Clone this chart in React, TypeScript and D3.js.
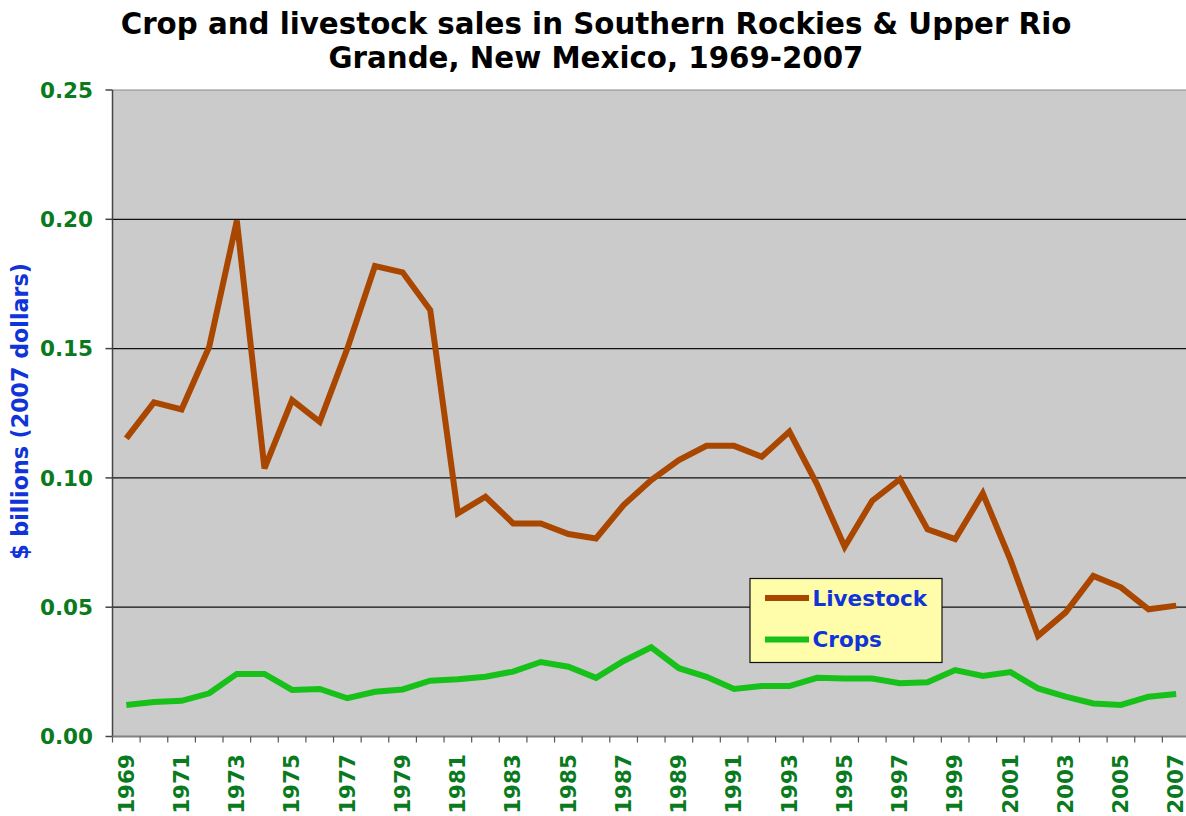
import React from "react";
import * as d3 from "d3";

const years: number[] = [
  1969, 1970, 1971, 1972, 1973, 1974, 1975, 1976, 1977, 1978, 1979, 1980, 1981,
  1982, 1983, 1984, 1985, 1986, 1987, 1988, 1989, 1990, 1991, 1992, 1993, 1994,
  1995, 1996, 1997, 1998, 1999, 2000, 2001, 2002, 2003, 2004, 2005, 2006, 2007,
];

const livestock: number[] = [
  0.1153, 0.1292, 0.1265, 0.1507, 0.1995, 0.1037, 0.1301, 0.1217, 0.150, 0.1819,
  0.1795, 0.1649, 0.0863, 0.0927, 0.0824, 0.0824, 0.0783, 0.0766, 0.0895, 0.0992,
  0.1069, 0.1124, 0.1124, 0.1082, 0.1179, 0.0975, 0.0734, 0.0912, 0.0995, 0.0801,
  0.0763, 0.0940, 0.0683, 0.0389, 0.0480, 0.0621, 0.0577, 0.0492, 0.0506,
];

const crops: number[] = [
  0.0122, 0.0133, 0.0138, 0.0167, 0.0242, 0.0242, 0.0180, 0.0184, 0.0148, 0.0173,
  0.0182, 0.0216, 0.0221, 0.0231, 0.0251, 0.0288, 0.0270, 0.0227, 0.0292, 0.0345,
  0.0264, 0.0231, 0.0184, 0.0195, 0.0195, 0.0227, 0.0224, 0.0224, 0.0206, 0.0210,
  0.0257, 0.0234, 0.0249, 0.0186, 0.0154, 0.0128, 0.0122, 0.0154, 0.0164,
];

const yTicks: number[] = [0, 0.05, 0.1, 0.15, 0.2, 0.25];
const seriesNames: string[] = ["Livestock", "Crops"];
const seriesColors: string[] = ["#a94700", "#17c11a"];
const titleLines: string[] = [
  "Crop and livestock sales in Southern Rockies & Upper Rio",
  "Grande, New Mexico, 1969-2007",
];

const W = 1186;
const H = 816;
const plotL = 112.5;
const plotR = 1190;
const plotT = 90;
const plotB = 736.5;
const FONT = "'DejaVu Sans', Verdana, sans-serif";
const GREEN = "#0a7a1e";
const BLUE = "#1034d8";

export default function App() {
  const x = d3
    .scaleBand<number>()
    .domain(years)
    .range([plotL, plotR])
    .paddingInner(0)
    .paddingOuter(0);
  const y = d3.scaleLinear().domain([0, 0.25]).range([plotB, plotT]);
  const cx = (yr: number) => (x(yr) as number) + x.bandwidth() / 2;

  const line = d3
    .line<number>()
    .x((_, i) => cx(years[i]))
    .y((v) => y(v));

  const series = [livestock, crops];

  return (
    <svg
      width={W}
      height={H}
      style={{ position: "absolute", left: 0, top: 0, background: "#fff" }}
      fontFamily={FONT}
    >
      {/* title */}
      {titleLines.map((t, i) => (
        <text
          key={t}
          x={596}
          y={34 + i * 34}
          textAnchor="middle"
          fontSize={29.3}
          fontWeight="bold"
          fill="#000"
        >
          {t}
        </text>
      ))}

      {/* plot background */}
      <rect
        x={plotL}
        y={plotT}
        width={plotR - plotL}
        height={plotB - plotT}
        fill="#cbcbcb"
      />

      {/* gridlines */}
      {yTicks.map((t) =>
        t > 0 ? (
          <line
            key={"g" + t}
            x1={plotL}
            x2={plotR}
            y1={y(t)}
            y2={y(t)}
            stroke={t === 0.25 ? "#8a8a8a" : "#111"}
            strokeWidth={1.2}
          />
        ) : null
      )}

      {/* y axis */}
      <line x1={plotL} x2={plotL} y1={plotT} y2={plotB} stroke="#444" strokeWidth={1.5} />
      {yTicks.map((t) => (
        <g key={"yt" + t}>
          <line x1={plotL - 7} x2={plotL} y1={y(t)} y2={y(t)} stroke="#444" strokeWidth={1.5} />
          <text
            x={93}
            y={y(t)}
            dy="0.36em"
            textAnchor="end"
            fontSize={21.5}
            fontWeight="bold"
            fill={GREEN}
          >
            {t.toFixed(2)}
          </text>
        </g>
      ))}

      {/* x axis */}
      <line x1={plotL} x2={plotR} y1={plotB} y2={plotB} stroke="#808080" strokeWidth={2} />
      {years.map((yr) => (
        <line
          key={"xt" + yr}
          x1={x(yr) as number}
          x2={x(yr) as number}
          y1={plotB}
          y2={plotB + 6}
          stroke="#555"
          strokeWidth={1.2}
        />
      ))}
      {years.map((yr, i) =>
        i % 2 === 0 ? (
          <text
            key={"xl" + yr}
            transform={`translate(${cx(yr) - 0.5},${754}) rotate(-90)`}
            textAnchor="end"
            dy="0.36em"
            fontSize={21.5}
            fontWeight="bold"
            fill={GREEN}
          >
            {yr}
          </text>
        ) : null
      )}

      {/* y axis title */}
      <text
        transform={`translate(20,411.5) rotate(-90)`}
        textAnchor="middle"
        dy="0.36em"
        fontSize={22.2}
        fontWeight="bold"
        fill={BLUE}
      >
        $ billions (2007 dollars)
      </text>

      {/* lines */}
      {series.map((s, i) => (
        <path
          key={seriesNames[i]}
          d={line(s) as string}
          fill="none"
          stroke={seriesColors[i]}
          strokeWidth={6}
          strokeLinejoin="miter"
        />
      ))}

      {/* legend */}
      <rect x={750} y={578.5} width={192} height={84} fill="#fffcaa" stroke="#111" strokeWidth={1.2} />
      {seriesNames.map((n, i) => (
        <g key={"lg" + n}>
          <line
            x1={765}
            x2={809}
            y1={598 + i * 41.5}
            y2={598 + i * 41.5}
            stroke={seriesColors[i]}
            strokeWidth={6}
          />
          <text
            x={812.5}
            y={598 + i * 41.5}
            dy="0.36em"
            fontSize={21.5}
            fontWeight="bold"
            fill={BLUE}
          >
            {n}
          </text>
        </g>
      ))}
    </svg>
  );
}
